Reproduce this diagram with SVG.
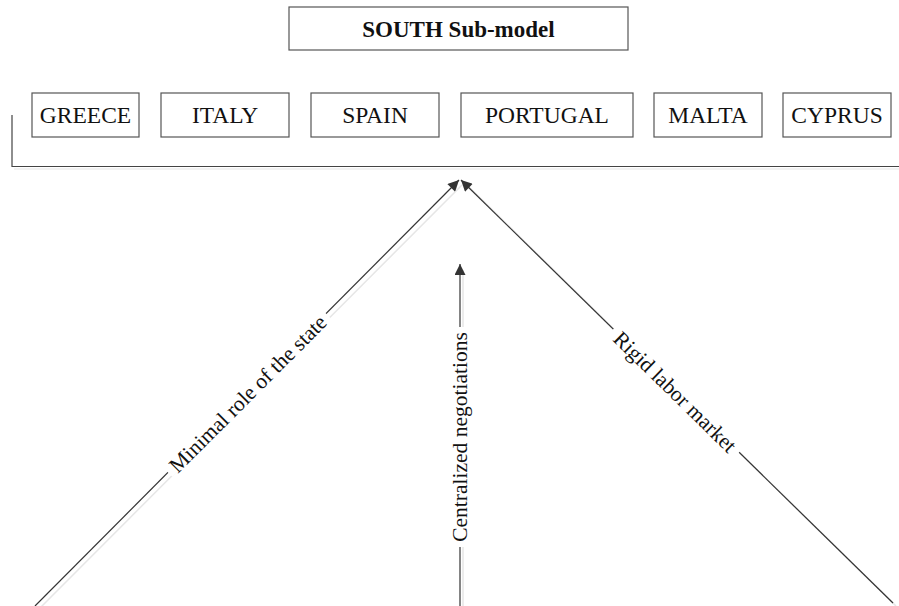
<svg xmlns="http://www.w3.org/2000/svg" width="899" height="606" viewBox="0 0 899 606">
  <style>
    .box { fill: #fff; stroke: #555; stroke-width: 1.2; }
    .lbl { font-family: "Liberation Serif", "Times New Roman", serif; font-size: 23.5px; fill: #111; text-anchor: middle; }
    .title { font-weight: bold; font-size: 23px; }
    .edge { stroke: #333; stroke-width: 1.2; fill: none; }
    .shadow { stroke: #e6e6e6; stroke-width: 1.5; fill: none; }
    .elbl { font-family: "Liberation Serif", "Times New Roman", serif; font-size: 21.5px; fill: #111; text-anchor: middle; }
    .gap { fill: #fff; }
  </style>
  <defs>
    <marker id="arrow" viewBox="0 0 10 10" refX="10" refY="5" markerWidth="12" markerHeight="11" markerUnits="userSpaceOnUse" orient="auto">
      <path d="M0,0 L10,5 L0,10 z" fill="#333"/>
    </marker>
  </defs>
  <rect width="899" height="606" fill="#fff"/>

  <g id="title">
    <rect class="box" x="289" y="7" width="339" height="43"/>
    <text class="lbl title" x="458.5" y="37">SOUTH Sub-model</text>
  </g>

  <g id="bracket">
    <polyline points="12,115 12,166.5 899,166.5" fill="none" stroke="#444" stroke-width="1.2"/>
    <line x1="14" y1="169" x2="899" y2="169" stroke="#eee" stroke-width="1.5"/>
  </g>

  <g id="greece">
    <rect class="box" x="32" y="93" width="107" height="44"/>
    <text class="lbl" x="85.5" y="123">GREECE</text>
  </g>
  <g id="italy">
    <rect class="box" x="161" y="93" width="128" height="44"/>
    <text class="lbl" x="225" y="123">ITALY</text>
  </g>
  <g id="spain">
    <rect class="box" x="311" y="93" width="128" height="44"/>
    <text class="lbl" x="375" y="123">SPAIN</text>
  </g>
  <g id="portugal">
    <rect class="box" x="461" y="93" width="172" height="44"/>
    <text class="lbl" x="547" y="123">PORTUGAL</text>
  </g>
  <g id="malta">
    <rect class="box" x="654" y="93" width="108" height="44"/>
    <text class="lbl" x="708" y="123">MALTA</text>
  </g>
  <g id="cyprus">
    <rect class="box" x="783" y="93" width="108" height="44"/>
    <text class="lbl" x="837" y="123">CYPRUS</text>
  </g>

  <g id="connectors">
    <!-- faint offset shadows -->
    <line class="shadow" x1="40" y1="608" x2="462" y2="185"/>
    <line class="shadow" x1="463" y1="608" x2="463" y2="270"/>
    <line class="shadow" x1="896" y1="606" x2="466" y2="184"/>

    <line class="edge" x1="35" y1="606" x2="459" y2="180" marker-end="url(#arrow)"/>
    <line class="edge" x1="460" y1="606" x2="460" y2="264" marker-end="url(#arrow)"/>
    <line class="edge" x1="893" y1="603" x2="461" y2="180" marker-end="url(#arrow)"/>

    <g id="label-state" transform="translate(248,394) rotate(-45)">
      <rect class="gap" x="-112" y="-5" width="224" height="10"/>
      <text class="elbl" x="0" y="7">Minimal role of the state</text>
    </g>
    <g id="label-negotiations" transform="translate(460,437) rotate(-90)">
      <rect class="gap" x="-110" y="-5" width="220" height="10"/>
      <text class="elbl" x="0" y="7">Centralized negotiations</text>
    </g>
    <g id="label-labor" transform="translate(675,392) rotate(44.4)">
      <rect class="gap" x="-88" y="-5" width="176" height="10"/>
      <text class="elbl" x="0" y="7">Rigid labor market</text>
    </g>
  </g>
</svg>
